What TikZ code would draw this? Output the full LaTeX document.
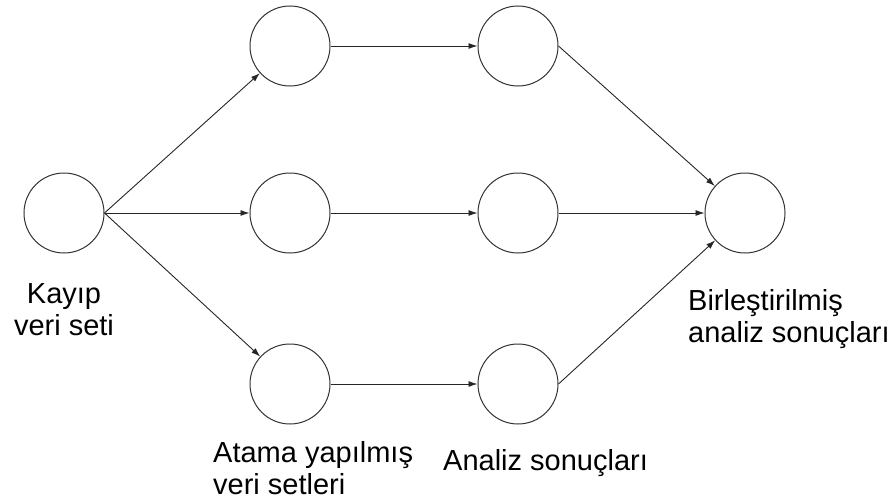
\documentclass[tikz,border=0pt]{standalone}
\usepackage{fontspec}
\setmainfont{Liberation Sans}
\usetikzlibrary{arrows.meta}

\begin{document}
\begin{tikzpicture}[x=1pt, y=-1pt,
  dot/.style={draw=black!80, line width=1pt, circle, minimum size=80pt, inner sep=0pt},
  flow/.style={-{Latex[length=9pt, width=6pt]}, draw=black!85, line width=0.9pt},
  lbl/.style={inner sep=0pt, font=\fontsize{29}{32}\selectfont}]
\useasboundingbox (0,0) rectangle (893,503);
% circles
\node[dot] (KV) at (64,213) {};
\node[dot] (A1) at (290,46) {};
\node[dot] (A2) at (290,213) {};
\node[dot] (A3) at (290,384) {};
\node[dot] (S1) at (518,46) {};
\node[dot] (S2) at (518,213) {};
\node[dot] (S3) at (518,384) {};
\node[dot] (B) at (745,213) {};
% labels
\node[lbl, anchor=north, align=center] (KVtext) at (64,283) {Kayıp\\veri seti};
\node[lbl, anchor=north west, align=left] (Atext) at (213,441) {Atama yapılmış\\veri setleri};
\node[lbl, anchor=base west] (Stext) at (443,470) {Analiz sonuçları};
\node[lbl, anchor=north west, align=left] (Btext) at (688,289) {Birleştirilmiş\\analiz sonuçları};
% arrows
\foreach \i in {1,2,3} {
  \draw[flow] (KV.east) -- (A\i);
  \draw[flow] (A\i.east) -- (S\i.west);
  \draw[flow] (S\i.east) -- (B);
}
\end{tikzpicture}
\end{document}
